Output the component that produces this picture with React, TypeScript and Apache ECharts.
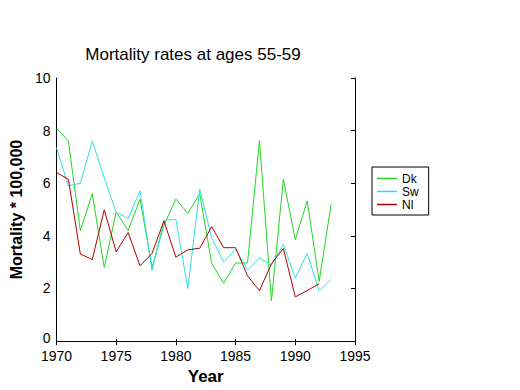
import React, { useEffect, useRef } from "react";
import * as echarts from "echarts";

const years = [1970, 1971, 1972, 1973, 1974, 1975, 1976, 1977, 1978, 1979, 1980, 1981, 1982, 1983, 1984, 1985, 1986, 1987, 1988, 1989, 1990, 1991, 1992, 1993];
const dk = [8.1, 7.6, 4.2, 5.6, 2.8, 4.9, 4.2, 5.4, 2.8, 4.4, 5.4, 4.85, 5.6, 2.95, 2.2, 2.97, 2.97, 7.63, 1.53, 6.15, 3.86, 5.33, 2.27, 5.2];
const sw = [7.35, 5.9, 6.0, 7.6, 6.2, 4.9, 4.66, 5.72, 2.69, 4.6, 4.62, 2.0, 5.78, 3.92, 3.0, 3.5, 2.7, 3.16, 2.88, 3.68, 2.39, 3.33, 1.9, 2.35];
const nl = [6.41, 6.15, 3.31, 3.1, 4.99, 3.39, 4.13, 2.86, 3.33, 4.57, 3.19, 3.47, 3.53, 4.35, 3.55, 3.55, 2.48, 1.92, 2.94, 3.52, 1.68, 1.92, 2.18];
const seriesNames = ["Dk", "Sw", "Nl"];
const seriesColors = ["#1ed81e", "#2fe0e0", "#b00000"];
const xTicks = { min: 1970, max: 1995, step: 5 };
const yTicks = { min: 0, max: 10, step: 2 };

export default function App() {
  const ref = useRef<HTMLDivElement>(null);
  useEffect(() => {
    if (!ref.current) return;
    const chart = echarts.init(ref.current, null, { renderer: "svg" });
    const font = "'Liberation Sans', Arial, sans-serif";
    const allData = [dk, sw, nl];
    const axisLine = { show: true, lineStyle: { color: "#000", width: 1 } };
    chart.setOption({
      animation: false,
      backgroundColor: "#fff",
      title: {
        text: "Mortality rates at ages 55-59",
        left: 188,
        top: 41,
        textAlign: "center",
        textStyle: { fontFamily: font, fontSize: 17, fontWeight: "normal", color: "#000" },
      },
      legend: {
        left: 372,
        top: 167,
        orient: "vertical",
        data: seriesNames.map((n) => ({ name: n, icon: "rect" })),
        itemWidth: 20,
        itemHeight: 1.5,
        itemGap: 0,
        padding: [5, 10, 4, 5],
        borderColor: "#000",
        borderWidth: 1,
        borderRadius: 0,
        backgroundColor: "#fff",
        textStyle: { fontFamily: font, fontSize: 12, color: "#000", lineHeight: 13 },
      },
      grid: { left: 53, top: 78, width: 302, height: 272, containLabel: false },
      xAxis: [
        {
          type: "value",
          min: xTicks.min,
          max: xTicks.max,
          interval: xTicks.step,
          position: "bottom",
          name: "Year",
          nameLocation: "middle",
          nameGap: 23,
          nameTextStyle: { fontFamily: font, fontSize: 17, fontWeight: "bold", color: "#000" },
          axisLine,
          axisTick: { show: true, inside: true, length: 2, lineStyle: { color: "#000" } },
          axisLabel: { fontFamily: font, fontSize: 14, color: "#000", margin: 8, formatter: (v: number) => String(v) },
          splitLine: { show: false },
        },
        {
          type: "value",
          min: xTicks.min,
          max: xTicks.max,
          interval: xTicks.step,
          position: "top",
          axisLine,
          axisTick: { show: true, inside: true, length: 4, lineStyle: { color: "#000" } },
          axisLabel: { show: false },
          splitLine: { show: false },
        },
      ],
      yAxis: [
        {
          type: "value",
          min: yTicks.min,
          max: yTicks.max,
          interval: yTicks.step,
          position: "left",
          name: "Mortality * 100,000",
          nameLocation: "middle",
          nameGap: 24,
          nameTextStyle: { fontFamily: font, fontSize: 16, fontWeight: "bold", color: "#000" },
          axisLine,
          axisTick: { show: false },
          axisLabel: {
            fontFamily: font,
            fontSize: 14,
            color: "#000",
            margin: 6,
            formatter: (v: number) => (v === 0 ? "{z|0}" : String(v)),
            rich: { z: { fontFamily: font, fontSize: 14, color: "#000", padding: [0, 0, 7, 0] } },
          },
          splitLine: { show: false },
        },
        {
          type: "value",
          min: yTicks.min,
          max: yTicks.max,
          interval: yTicks.step,
          position: "right",
          axisLine,
          axisTick: { show: true, inside: true, length: 4, lineStyle: { color: "#000" } },
          axisLabel: { show: false },
          splitLine: { show: false },
        },
      ],
      series: seriesNames.map((name, i) => ({
        name,
        type: "line",
        xAxisIndex: 0,
        yAxisIndex: 0,
        symbol: "none",
        color: seriesColors[i],
        lineStyle: { color: seriesColors[i], width: 1 },
        data: allData[i].map((v, j) => [years[j], v]),
      })),
    });
    return () => chart.dispose();
  }, []);
  return <div ref={ref} style={{ width: 520, height: 390, position: "absolute", left: 0, top: 0 }} />;
}
